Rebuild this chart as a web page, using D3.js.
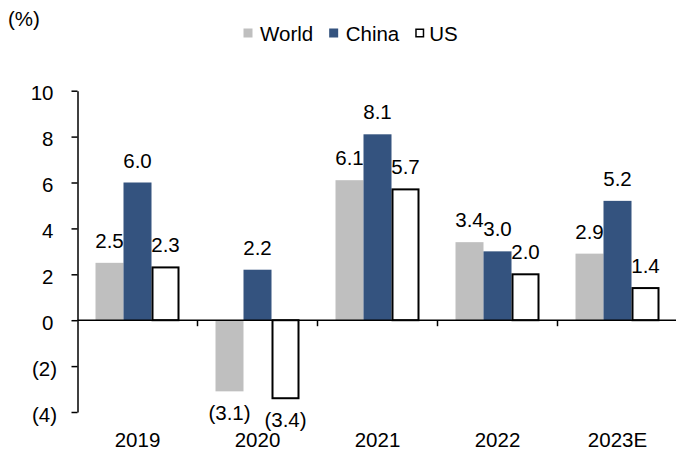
<!DOCTYPE html>
<html>
<head>
<meta charset="utf-8">
<script src="https://cdn.jsdelivr.net/npm/d3@7"></script>
<style>
  html, body { margin: 0; padding: 0; background: #fff; }
  svg { display: block; font-family: "Liberation Sans", Arial, sans-serif; }
</style>
</head>
<body>
<svg id="chart" width="676" height="453"></svg>
<script>
// GDP growth, %
const categories = ["2019", "2020", "2021", "2022", "2023E"];
const seriesNames = ["World", "China", "US"];
const worldValues = [2.5, -3.1, 6.1, 3.4, 2.9];
const chinaValues = [6.0, 2.2, 8.1, 3.0, 5.2];
const usValues = [2.3, -3.4, 5.7, 2.0, 1.4];
const yTickValues = [-4, -2, 0, 2, 4, 6, 8, 10];

const seriesValues = [worldValues, chinaValues, usValues];
const colors = { World: "#bfbfbf", China: "#34537f", US: "#ffffff" };
const strokes = { World: "none", China: "none", US: "#000" };

const svg = d3.select("#chart");
const fontSize = 20.5;

const x0 = d3.scaleBand().domain(categories).range([77.5, 677.5]).padding(0);
const x1 = d3.scaleBand().domain(seriesNames).range([0, 84]).padding(0);
const y = d3.scaleLinear().domain([-4, 10]).range([412, 90.7]);

const fmtValue = v => v < 0 ? `(${Math.abs(v).toFixed(1)})` : v.toFixed(1);
const fmtTick = v => v < 0 ? `(${-v})` : `${v}`;

// "(%)" unit label
svg.append("text").attr("x", 8).attr("y", 26)
  .attr("font-size", fontSize).text("(%)");

// legend
const legend = svg.append("g");
let lx = 243.5;
seriesNames.forEach(name => {
  legend.append("rect")
    .attr("x", name === "US" ? lx + 0.75 : lx).attr("y", name === "US" ? 29.25 : 28.5)
    .attr("width", name === "US" ? 7.5 : 9).attr("height", name === "US" ? 7.5 : 9)
    .attr("fill", colors[name])
    .attr("stroke", strokes[name]).attr("stroke-width", 1.5);
  const t = legend.append("text")
    .attr("x", lx + (name === "US" ? 14 : 16.5)).attr("y", 40.5)
    .attr("font-size", fontSize).text(name);
  lx = lx + (name === "US" ? 14 : 16.5) + t.node().getComputedTextLength() + 16;
});

// bars
const groups = svg.append("g").selectAll("g")
  .data(categories)
  .join("g")
  .attr("transform", c => `translate(${x0(c) + (x0.bandwidth() - 84) / 2},0)`);

const bars = groups.selectAll("g.bar")
  .data((c, i) => seriesNames.map((s, j) => ({ series: s, value: seriesValues[j][i] })))
  .join("g").attr("class", "bar");

bars.append("rect")
  .attr("x", d => d.series === "US" ? x1(d.series) + 1 : x1(d.series))
  .attr("width", d => d.series === "US" ? x1.bandwidth() - 2 : x1.bandwidth())
  .attr("y", d => Math.min(y(d.value), y(0)))
  .attr("height", d => Math.abs(y(d.value) - y(0)))
  .attr("fill", d => colors[d.series])
  .attr("stroke", d => strokes[d.series])
  .attr("stroke-width", 2);

// value labels
bars.append("text")
  .attr("x", d => x1(d.series) + x1.bandwidth() / 2)
  .attr("y", d => d.value >= 0 ? y(d.value) - 15 : y(d.value) + 28.5)
  .attr("text-anchor", "middle")
  .attr("font-size", fontSize)
  .text(d => fmtValue(d.value));

// y axis
const yAxis = svg.append("g").attr("transform", "translate(77.5,0)")
  .call(d3.axisLeft(y).tickValues(yTickValues).tickSize(6).tickSizeOuter(0).tickFormat(fmtTick));
yAxis.select(".domain").attr("stroke", "#000").attr("stroke-width", 1.5);
yAxis.selectAll(".tick line").attr("stroke", "#000").attr("stroke-width", 1.5);
yAxis.selectAll(".tick text")
  .attr("font-size", fontSize).attr("font-family", "Liberation Sans, Arial, sans-serif")
  .attr("fill", "#000")
  .attr("x", d => d < 0 ? -20.5 : -24)
  .attr("dy", "0.45em");

// x axis on the zero line with ticks at the category boundaries
const xAxis = svg.append("g");
xAxis.append("line")
  .attr("x1", x0.range()[0]).attr("x2", 676)
  .attr("y1", y(0)).attr("y2", y(0))
  .attr("stroke", "#000").attr("stroke-width", 1.5);
xAxis.selectAll("line.tick")
  .data(categories.slice(1))
  .join("line").attr("class", "tick")
  .attr("x1", c => x0(c)).attr("x2", c => x0(c))
  .attr("y1", y(0)).attr("y2", y(0) + 6)
  .attr("stroke", "#000").attr("stroke-width", 1.5);

// category labels along the bottom
svg.append("g").selectAll("text")
  .data(categories)
  .join("text")
  .attr("x", c => x0(c) + x0.bandwidth() / 2)
  .attr("y", 447)
  .attr("text-anchor", "middle")
  .attr("font-size", fontSize)
  .text(c => c);
</script>
</body>
</html>
